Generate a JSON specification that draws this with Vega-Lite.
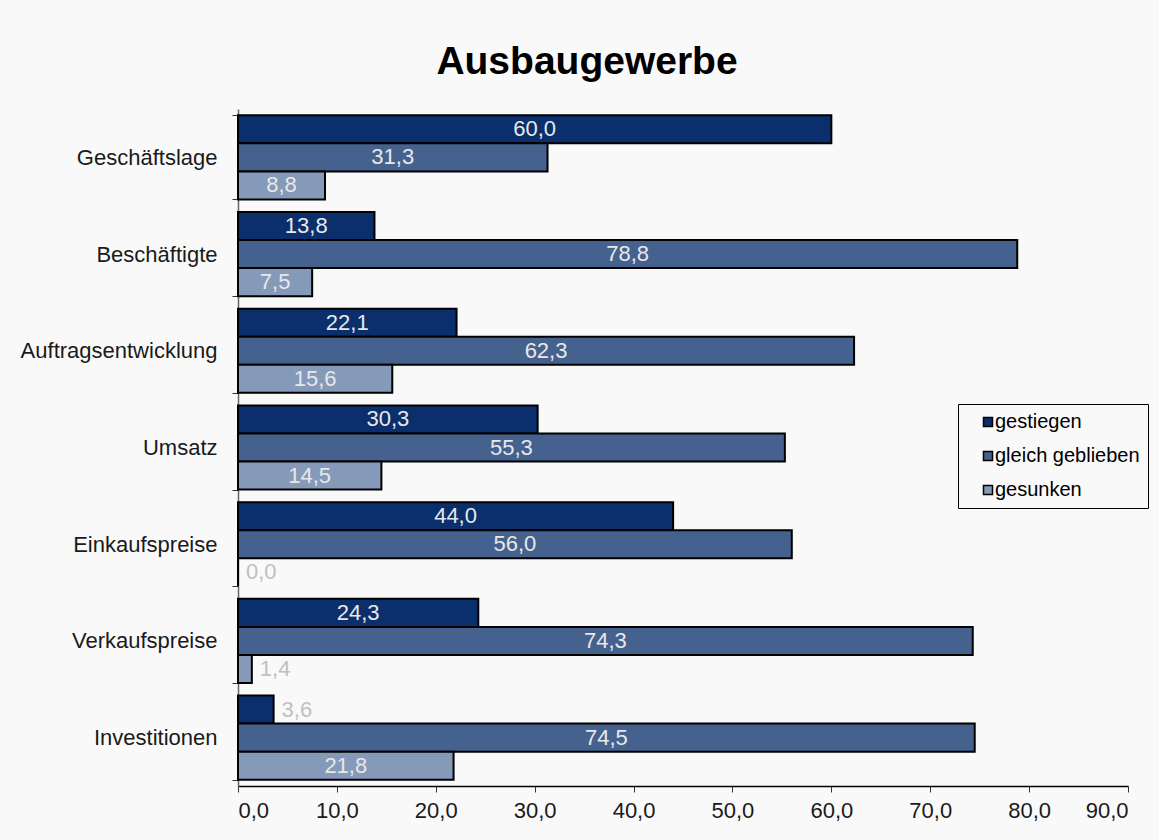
{
  "$schema": "https://vega.github.io/schema/vega-lite/v6.json",
  "width": 890,
  "height": 677,
  "autosize": {"type": "none"},
  "padding": {"left": 238, "top": 109, "right": 31, "bottom": 54},
  "background": "#f9f9f9",
  "title": {
    "text": "Ausbaugewerbe",
    "font": "Liberation Sans",
    "fontSize": 39,
    "fontWeight": "bold",
    "color": "#000000",
    "anchor": "middle",
    "baseline": "alphabetic",
    "dx": -96,
    "dy": 51,
    "offset": 36
  },
  "config": {
    "view": {"stroke": null},
    "font": "Liberation Sans",
    "axis": {"grid": false, "labelFont": "Liberation Sans", "labelFontSize": 22, "labelColor": "#1a1a1a", "labelLimit": 400, "titleFontSize": 0}
  },
  "data": {
    "values": [
      {"bereich": "Geschäftslage", "entwicklung": "gestiegen", "anteil": 60.0},
      {"bereich": "Geschäftslage", "entwicklung": "gleich geblieben", "anteil": 31.3},
      {"bereich": "Geschäftslage", "entwicklung": "gesunken", "anteil": 8.8},
      {"bereich": "Beschäftigte", "entwicklung": "gestiegen", "anteil": 13.8},
      {"bereich": "Beschäftigte", "entwicklung": "gleich geblieben", "anteil": 78.8},
      {"bereich": "Beschäftigte", "entwicklung": "gesunken", "anteil": 7.5},
      {"bereich": "Auftragsentwicklung", "entwicklung": "gestiegen", "anteil": 22.1},
      {"bereich": "Auftragsentwicklung", "entwicklung": "gleich geblieben", "anteil": 62.3},
      {"bereich": "Auftragsentwicklung", "entwicklung": "gesunken", "anteil": 15.6},
      {"bereich": "Umsatz", "entwicklung": "gestiegen", "anteil": 30.3},
      {"bereich": "Umsatz", "entwicklung": "gleich geblieben", "anteil": 55.3},
      {"bereich": "Umsatz", "entwicklung": "gesunken", "anteil": 14.5},
      {"bereich": "Einkaufspreise", "entwicklung": "gestiegen", "anteil": 44.0},
      {"bereich": "Einkaufspreise", "entwicklung": "gleich geblieben", "anteil": 56.0},
      {"bereich": "Einkaufspreise", "entwicklung": "gesunken", "anteil": 0.0},
      {"bereich": "Verkaufspreise", "entwicklung": "gestiegen", "anteil": 24.3},
      {"bereich": "Verkaufspreise", "entwicklung": "gleich geblieben", "anteil": 74.3},
      {"bereich": "Verkaufspreise", "entwicklung": "gesunken", "anteil": 1.4},
      {"bereich": "Investitionen", "entwicklung": "gestiegen", "anteil": 3.6},
      {"bereich": "Investitionen", "entwicklung": "gleich geblieben", "anteil": 74.5},
      {"bereich": "Investitionen", "entwicklung": "gesunken", "anteil": 21.8}
    ]
  },
  "encoding": {
    "y": {
      "field": "bereich",
      "type": "nominal",
      "sort": null,
      "title": null,
      "scale": {"paddingInner": 0.13, "paddingOuter": 0.065},
      "axis": {
        "tickBand": "extent",
        "tickSize": 6,
        "tickColor": "#333333",
        "domainColor": "#666666",
        "domainWidth": 1.5,
        "labelPadding": 15
      }
    },
    "yOffset": {
      "field": "entwicklung",
      "type": "nominal",
      "scale": {"domain": ["gestiegen", "gleich geblieben", "gesunken"], "paddingInner": 0, "paddingOuter": 0}
    }
  },
  "layer": [
    {
      "mark": {"type": "bar", "stroke": "#000000", "strokeWidth": 2},
      "encoding": {
        "x": {
          "field": "anteil",
          "type": "quantitative",
          "title": null,
          "scale": {"domain": [0, 90], "nice": false},
          "axis": {
            "values": [0, 10, 20, 30, 40, 50, 60, 70, 80, 90],
            "labelExpr": "replace(format(datum.value, '.1f'), '.', ',')",
            "domainColor": "#000000",
            "domainWidth": 1.5,
            "tickColor": "#333333",
            "tickSize": 6,
            "labelPadding": 8
          }
        },
        "color": {
          "field": "entwicklung",
          "type": "nominal",
          "scale": {
            "domain": ["gestiegen", "gleich geblieben", "gesunken"],
            "range": ["#0a2f6c", "#45628f", "#8599b9"]
          },
          "legend": {
            "title": null,
            "orient": "none",
            "legendX": 720,
            "legendY": 295,
            "strokeColor": "#000000",
            "padding": 8,
            "symbolType": "square",
            "symbolSize": 81,
            "symbolStrokeColor": "#000000",
            "symbolStrokeWidth": 1.5,
            "symbolOffset": 12,
            "labelOffset": -3,
            "labelFont": "Liberation Sans",
            "labelFontSize": 20,
            "labelColor": "#000000",
            "rowPadding": 14
          }
        }
      }
    },
    {
      "transform": [{"filter": "datum.anteil >= 5"}],
      "mark": {
        "type": "text",
        "align": "center",
        "baseline": "middle",
        "font": "Liberation Sans",
        "fontSize": 22,
        "color": "#e8e8e8",
        "text": {"expr": "replace(format(datum.anteil, '.1f'), '.', ',')"}
      },
      "encoding": {
        "x": {
          "field": "anteil",
          "type": "quantitative",
          "scale": {"domain": [0, 180], "nice": false},
          "axis": null
        }
      }
    },
    {
      "transform": [{"filter": "datum.anteil < 5"}],
      "mark": {
        "type": "text",
        "align": "left",
        "baseline": "middle",
        "dx": 8,
        "font": "Liberation Sans",
        "fontSize": 22,
        "color": "#c0c0c0",
        "text": {"expr": "replace(format(datum.anteil, '.1f'), '.', ',')"}
      },
      "encoding": {
        "x": {
          "field": "anteil",
          "type": "quantitative",
          "scale": {"domain": [0, 90], "nice": false},
          "axis": null
        }
      }
    }
  ],
  "resolve": {"scale": {"x": "independent"}}
}
